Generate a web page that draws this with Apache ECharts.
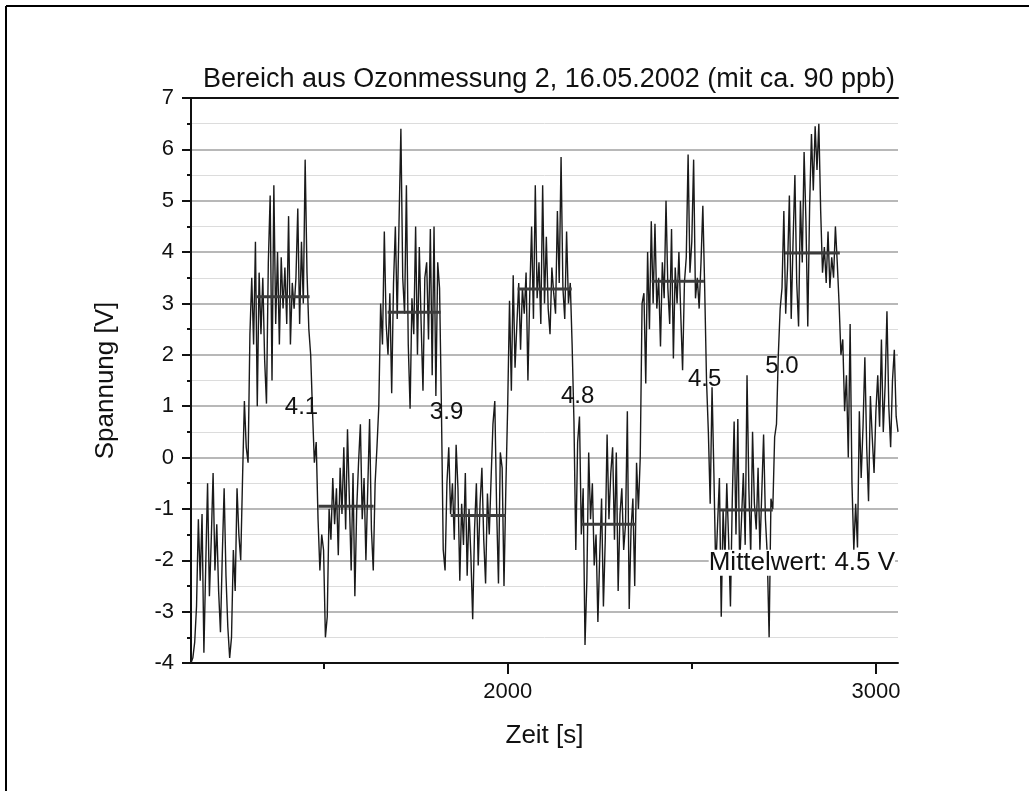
<!DOCTYPE html>
<html lang="de">

<head>
    <meta charset="UTF-8">
    <title>Ozonmessung 2</title>
    <script src="https://cdn.jsdelivr.net/npm/echarts@6/dist/echarts.min.js"></script>
    <style>
        body { margin: 0; background: #fff; }
    </style>
</head>

<body>
    <div id="main" style="width: 1029px;height:791px;"></div>
    <script type="text/javascript">
        // Abtastung: alle 5 s ab 1140 s
        var t0 = 1140;
        var dt = 5;

        // Spannung [V]
        var spannung = [
            // 1140 - 1300
            -4.0, -3.9, -3.6, -2.9, -1.2, -2.4, -1.1, -3.8, -2.1, -0.5, -2.7, -1.6, -0.3, -2.2, -1.3, -2.6, -3.4,
            -1.9, -0.6, -2.3, -3.3, -3.9, -3.5, -1.8, -2.6, -0.6, -1.5, -2.0, -0.4, 1.1, 0.2, -0.1, 2.4,
            // 1305 - 1470
            3.5, 2.2, 4.2, 1.0, 3.6, 2.4, 3.5, 1.9, 1.05, 3.8, 5.1, 1.5, 5.3, 2.6, 4.0, 2.2, 3.9,
            2.9, 3.7, 2.6, 4.7, 2.2, 3.4, 2.9, 3.5, 4.85, 2.6, 4.2, 3.0, 5.8, 3.6, 2.5, 2.0, 0.9,
            // 1475 - 1650
            -0.1, 0.3, -1.2, -2.2, -1.5, -1.8, -3.5, -3.1, -1.0, -1.6, -0.4, -1.3, -0.6, -1.9, -0.2, -1.1, 0.2, -1.4,
            0.55, -0.8, -2.2, -0.3, -2.7, -1.0, -0.1, 0.65, -1.2, -0.4, -2.0, -0.6, 0.75, -1.4, -2.2, -0.5, 0.2, 1.0,
            // 1655 - 1820
            3.0, 2.2, 4.4, 2.6, 2.0, 3.2, 1.25, 3.4, 4.5, 2.7, 4.6, 6.4, 3.5, 2.8, 5.3, 2.2, 0.95,
            3.1, 2.4, 4.5, 2.0, 4.1, 2.6, 1.3, 3.5, 3.8, 2.3, 4.45, 1.6, 4.5, 1.2, 3.8, 3.3, 1.0,
            // 1825 - 2000
            -1.8, -2.2, -0.5, 0.2, -1.1, -0.5, -1.6, 0.25, -0.6, -2.4, -0.9, -1.7, -0.3, -2.3, -1.0, -1.9, -3.15, -1.4,
            -0.5, -2.1, -0.9, -0.2, -1.6, -2.45, -0.7, -1.5, -0.4, 0.65, 1.1, -1.0, -2.45, 0.1, -0.2, -2.5, -0.6, 1.0,
            // 2005 - 2180
            3.05, 1.3, 3.55, 1.75, 2.6, 3.4, 2.1, 3.3, 2.8, 3.6, 1.5, 3.2, 4.5, 2.7, 5.3, 3.1, 3.8, 2.6,
            5.3, 3.0, 4.3, 2.9, 2.4, 3.7, 3.2, 2.8, 4.8, 3.4, 5.85, 3.3, 2.7, 4.4, 3.0, 3.4, 2.2, 0.7,
            // 2185 - 2360
            -1.8, 0.3, 0.8, -1.5, -0.6, -3.65, -2.4, 0.1, -1.2, -0.5, -2.1, -1.5, -3.2, -1.9, -0.8, -2.9, -1.6, 0.45,
            -1.2, -0.3, 0.2, -1.6, 0.1, -2.6, -1.1, -0.6, -1.8, -1.3, 0.9, -2.95, -1.4, -0.8, -2.5, -0.1, -1.0, 0.0,
            // 2365 - 2545
            3.0, 3.2, 1.44, 4.0, 2.5, 4.6, 3.0, 4.55, 2.9, 3.5, 2.16, 3.8, 3.1, 5.0, 3.3, 2.6, 4.45, 1.93, 3.7,
            3.0, 4.0, 2.8, 1.7, 3.4, 3.9, 5.9, 3.6, 4.2, 5.8, 3.1, 3.5, 2.9, 3.8, 4.9, 3.3, 1.5, 0.5,
            // 2550 - 2735
            -0.9, 1.37, -0.3, -2.2, -1.3, -0.4, -3.1, -1.0, -2.0, -0.5, -1.6, -2.9, -0.8, 0.7, -1.5, 0.75, -2.1, -1.2, -0.3,
            -1.7, 1.6, -0.6, -1.9, 0.5, -0.9, -1.4, -0.2, -1.8, -0.7, 0.45, -1.2, -1.9, -3.5, -0.8, -1.0, 0.4, 0.65, 2.0,
            // 2740 - 2905
            2.9, 3.3, 4.8, 2.8, 3.7, 5.1, 2.7, 4.2, 5.5, 3.4, 2.55, 5.0, 3.8, 5.95, 4.6, 2.55, 4.9,
            6.3, 5.2, 6.45, 5.6, 6.5, 4.8, 3.6, 4.1, 3.4, 4.4, 3.3, 3.9, 3.5, 4.5, 3.8, 3.0, 2.0,
            // 2910 - 3060
            2.3, 0.9, 1.6, 0.0, 2.6, -0.5, -1.8, -0.9, -1.75, 0.9, -0.4, 0.6, 1.95, 0.2, -0.85, 1.2,
            0.4, -0.3, 0.9, 1.6, 0.6, 2.3, 0.5, 1.4, 2.85, 1.0, 0.2, 1.5, 2.1, 0.8, 0.5
        ];

        // Mittelwerte der Abschnitte
        var meanStart = [1318, 1486, 1674, 1845, 2027, 2201, 2391, 2573, 2753];
        var meanEnd = [1462, 1636, 1818, 1995, 2174, 2348, 2533, 2720, 2902];
        var meanValue = [3.13, -0.95, 2.83, -1.13, 3.28, -1.30, 3.43, -1.02, 3.98];

        // Beschriftungen im Diagramm
        var noteText = ['4.1', '3.9', '4.8', '4.5', '5.0', 'Mittelwert: 4.5 V'];
        var noteX = [1440, 1834, 2190, 2535, 2745, 2799];
        var noteY = [0.97, 0.87, 1.2, 1.53, 1.77, -2.05];

        // Achsenbeschriftung
        var xMajor = [2000, 3000];
        var xMinor = [1500, 2500];

        var font = 'Liberation Sans, Arial, sans-serif';
        var myChart = echarts.init(document.getElementById('main'));

        var lineData = spannung.map(function (v, i) {
            return [t0 + i * dt, v];
        });

        var series = [{
            type: 'line',
            data: lineData,
            showSymbol: false,
            lineStyle: { color: '#1a1a1a', width: 1.4 },
            z: 2
        }];

        meanValue.forEach(function (v, k) {
            series.push({
                type: 'line',
                data: [[meanStart[k], v], [meanEnd[k], v]],
                showSymbol: false,
                lineStyle: { color: '#3c3c3c', width: 3 },
                z: 3
            });
        });

        series.push({
            type: 'scatter',
            symbolSize: 0,
            itemStyle: { color: '#000', opacity: 1 },
            z: 5,
            data: noteText.map(function (s, k) {
                var last = k === noteText.length - 1;
                return {
                    name: s,
                    value: [noteX[k], noteY[k]],
                    label: {
                        show: true,
                        position: 'inside',
                        formatter: '{b}',
                        fontFamily: font,
                        fontSize: last ? 26 : 24,
                        color: '#111',
                        opacity: 1,
                        textBorderWidth: 0,
                        backgroundColor: last ? '#fff' : 'transparent',
                        padding: 0
                    }
                };
            })
        });

        myChart.setOption({
            animation: false,
            title: {
                text: 'Bereich aus Ozonmessung 2, 16.05.2002 (mit ca. 90 ppb)',
                left: 544,
                top: 61,
                textAlign: 'center',
                textStyle: { fontFamily: font, fontSize: 27, fontWeight: 'normal', color: '#111' }
            },
            grid: { left: 191, right: 131, top: 98, bottom: 128 },
            xAxis: [{
                type: 'value',
                min: 1140,
                max: 3060,
                position: 'bottom',
                name: 'Zeit [s]',
                nameLocation: 'middle',
                nameGap: 60,
                nameTextStyle: { fontFamily: font, fontSize: 26, color: '#111' },
                axisLine: { onZero: false, lineStyle: { color: '#111', width: 2 } },
                axisTick: { customValues: xMajor, length: 11, lineStyle: { color: '#111', width: 2 } },
                axisLabel: {
                    customValues: xMajor, margin: 18, fontFamily: font, fontSize: 22, color: '#111',
                    formatter: function (v) { return String(v); }
                },
                splitLine: { show: false }
            }, {
                type: 'value',
                min: 1140,
                max: 3060,
                position: 'bottom',
                axisLine: { show: false, onZero: false },
                axisTick: { customValues: xMinor, length: 6, lineStyle: { color: '#111', width: 2 } },
                axisLabel: { show: false },
                splitLine: { show: false }
            }, {
                type: 'value',
                min: 1140,
                max: 3060,
                position: 'top',
                axisLine: { onZero: false, lineStyle: { color: '#111', width: 2 } },
                axisTick: { show: false },
                axisLabel: { show: false },
                splitLine: { show: false }
            }],
            yAxis: {
                type: 'value',
                min: -4,
                max: 7,
                interval: 1,
                name: 'Spannung [V]',
                nameLocation: 'middle',
                nameRotate: 90,
                nameGap: 72,
                nameTextStyle: { fontFamily: font, fontSize: 26, color: '#111' },
                axisLine: { show: true, onZero: false, lineStyle: { color: '#111', width: 2 } },
                axisTick: { length: 9, lineStyle: { color: '#111', width: 2 } },
                minorTick: { show: true, splitNumber: 2, length: 4, lineStyle: { color: '#111', width: 2 } },
                axisLabel: { margin: 17, fontFamily: font, fontSize: 22, color: '#111' },
                splitLine: { lineStyle: { color: '#a0a0a0', width: 1.5 } },
                minorSplitLine: { show: true, lineStyle: { color: '#dcdcdc', width: 1 } }
            },
            graphic: [{
                type: 'line',
                shape: { x1: 6, y1: 6, x2: 1029, y2: 6 },
                style: { stroke: '#000', lineWidth: 2 }
            }, {
                type: 'line',
                shape: { x1: 6, y1: 6, x2: 6, y2: 791 },
                style: { stroke: '#000', lineWidth: 2 }
            }],
            series: series
        });
    </script>
</body>

</html>
